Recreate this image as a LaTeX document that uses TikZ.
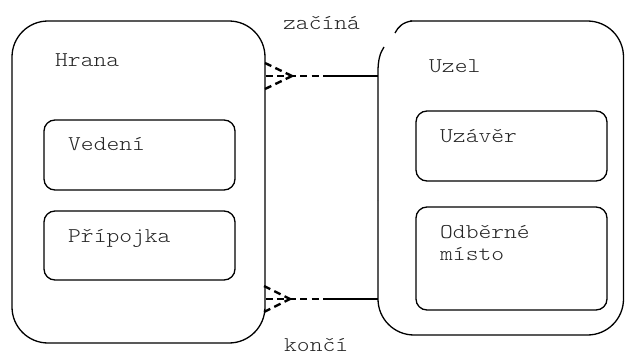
\documentclass[tikz,border=0pt]{standalone}
\usepackage{fontspec}
\setmonofont{lmmonolt10-regular.otf}[FakeStretch=1.16]
\begin{document}
\begin{tikzpicture}[x=1pt,y=-1pt,
  lbl/.style={anchor=base west,inner sep=0pt,text=black!85,font=\ttfamily\fontsize{21}{25}\selectfont},
  outer/.style={draw,line width=1.3pt,rounded corners=36pt,inner sep=0pt},
  inner/.style={draw,line width=1.3pt,rounded corners=11pt,inner sep=0pt},
  dsh/.style={line width=2.4pt,dash pattern=on 7pt off 4.5pt},
  sol/.style={line width=1.3pt}]
\useasboundingbox (0,0) rectangle (625,356);
% outer boxes
\node[outer,minimum width=253pt,minimum height=322pt] (hrana) at (138.5,182) {};
\node[inner sep=0pt,minimum width=245.5pt,minimum height=314pt] (uzel) at (500.75,178) {};
\draw[line width=1.3pt,rounded corners=36pt]
  (410,21) -- (623.5,21) -- (623.5,335) -- (378,335) -- (378,200);
\draw[line width=1.3pt] (378,200) -- (378,72) .. controls (378,60) and (380,53) .. (384,47);
\draw[line width=1.3pt] (395,33) .. controls (398,27) and (403,22) .. (412,21);
% inner boxes
\node[inner,minimum width=191pt,minimum height=70pt] (vedeni) at (139.5,155) {};
\node[inner,minimum width=191pt,minimum height=69pt] (pripojka) at (139.5,245.5) {};
\node[inner,minimum width=191pt,minimum height=70pt] (uzaver) at (511.5,146) {};
\node[inner,minimum width=191pt,minimum height=103pt] (odber) at (511.5,258.5) {};
% labels
\node[lbl] (thrana) at (55,66.7) {Hrana};
\node[lbl] (tved) at (68,150) {Vedení};
\node[lbl] (tpri) at (68,242) {Přípojka};
\node[lbl] (tuzel) at (429,72) {Uzel};
\node[lbl] (tuza) at (440,142) {Uzávěr};
\node[lbl] (todb) at (440,238.5) {Odběrné};
\node[lbl] (tmis) at (440,260.5) {místo};
\node[lbl] (tzac) at (283,30) {začíná};
\node[lbl] (tkon) at (284,351) {končí};
% connector top
\coordinate (a0) at (hrana.east |- 0,76);
\coordinate (a1) at (292,76);
\coordinate (a2) at (330,76);
\coordinate (a3) at (uzel.west |- 0,76);
\draw[dsh] (265,63) -- (a1);
\draw[dsh] (265,89) -- (a1);
\draw[dsh] (a0) -- (a2);
\draw[sol] (a2) -- (a3);
% connector bottom
\coordinate (b0) at (hrana.east |- 0,299);
\coordinate (b1) at (290,299);
\coordinate (b2) at (325,299);
\coordinate (b3) at (uzel.west |- 0,299);
\draw[dsh] (264,286) -- (b1);
\draw[dsh] (264,312) -- (b1);
\draw[dsh] (b0) -- (b2);
\draw[sol] (b2) -- (b3);
\end{tikzpicture}
\end{document}
